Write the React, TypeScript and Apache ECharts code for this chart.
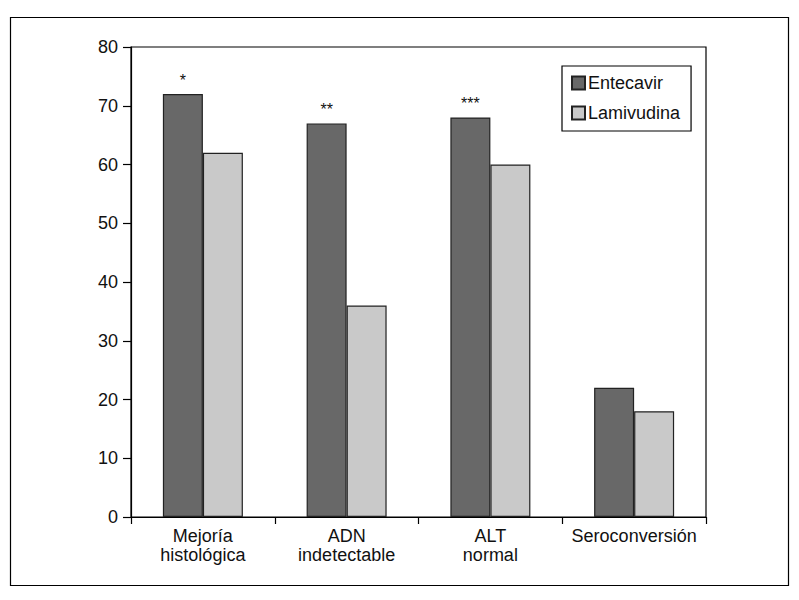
import React, { useEffect, useRef } from "react";
import * as echarts from "echarts";

const categories = ["Mejoría\nhistológica", "ADN\nindetectable", "ALT\nnormal", "Seroconversión"];
const entecavir = [72, 67, 68, 22];
const lamivudina = [62, 36, 60, 18];
const significance = ["*", "**", "***", ""];
const yTicks = [0, 10, 20, 30, 40, 50, 60, 70, 80];

const FONT = "'Liberation Sans', Arial, Helvetica, sans-serif";

export default function App() {
  const ref = useRef<HTMLDivElement>(null);
  useEffect(() => {
    if (!ref.current) return;
    const chart = echarts.init(ref.current, undefined, { renderer: "svg" });
    chart.setOption({
      animation: false,
      backgroundColor: "#fff",
      textStyle: { fontFamily: FONT },
      graphic: [
        {
          type: "rect",
          shape: { x: 10.5, y: 17.5, width: 778, height: 568 },
          style: { fill: "none", stroke: "#000", lineWidth: 1.2 },
          silent: true,
        },
      ],
      grid: {
        left: 131,
        right: 93,
        top: 47,
        bottom: 83,
        show: true,
        borderColor: "#000",
        borderWidth: 1.2,
        backgroundColor: "transparent",
      },
      legend: {
        orient: "vertical",
        left: 562,
        top: 66,
        padding: [7, 11, 8, 9],
        borderColor: "#000",
        borderWidth: 1.2,
        itemWidth: 13,
        itemHeight: 13,
        itemGap: 10,
        icon: "rect",
        textStyle: { fontSize: 18, color: "#111", fontFamily: FONT, lineHeight: 20, padding: [0, 0, 0, -2] },
        data: ["Entecavir", "Lamivudina"],
      },
      xAxis: {
        type: "category",
        data: categories,
        axisLine: { lineStyle: { color: "#000", width: 1.2 } },
        axisTick: { show: true, alignWithLabel: false, length: 7, lineStyle: { color: "#000", width: 1.2 } },
        axisLabel: { fontSize: 18, color: "#111", lineHeight: 19, margin: 9, fontFamily: FONT, interval: 0 },
      },
      yAxis: {
        type: "value",
        min: yTicks[0],
        max: yTicks[yTicks.length - 1],
        interval: 10,
        splitLine: { show: false },
        axisLine: { show: true, lineStyle: { color: "#000", width: 1.2 } },
        axisTick: { show: true, length: 8, lineStyle: { color: "#000", width: 1.2 } },
        axisLabel: { fontSize: 18, color: "#111", margin: 13, fontFamily: FONT },
      },
      series: [
        {
          name: "Entecavir",
          type: "bar",
          data: entecavir,
          barWidth: 40,
          barGap: "0%",
          itemStyle: { color: "#686868", borderColor: "#222", borderWidth: 1.2 },
          label: {
            show: true,
            position: "top",
            distance: 6,
            fontSize: 16,
            color: "#111",
            fontFamily: FONT,
            formatter: (p: any) => significance[p.dataIndex],
          },
        },
        {
          name: "Lamivudina",
          type: "bar",
          data: lamivudina,
          barWidth: 40,
          barGap: "0%",
          itemStyle: { color: "#c9c9c9", borderColor: "#222", borderWidth: 1.2 },
        },
      ],
    });
    return () => chart.dispose();
  }, []);
  return (
    <div
      ref={ref}
      style={{ position: "fixed", left: 0, top: 0, width: 799, height: 600, background: "#fff" }}
    />
  );
}
